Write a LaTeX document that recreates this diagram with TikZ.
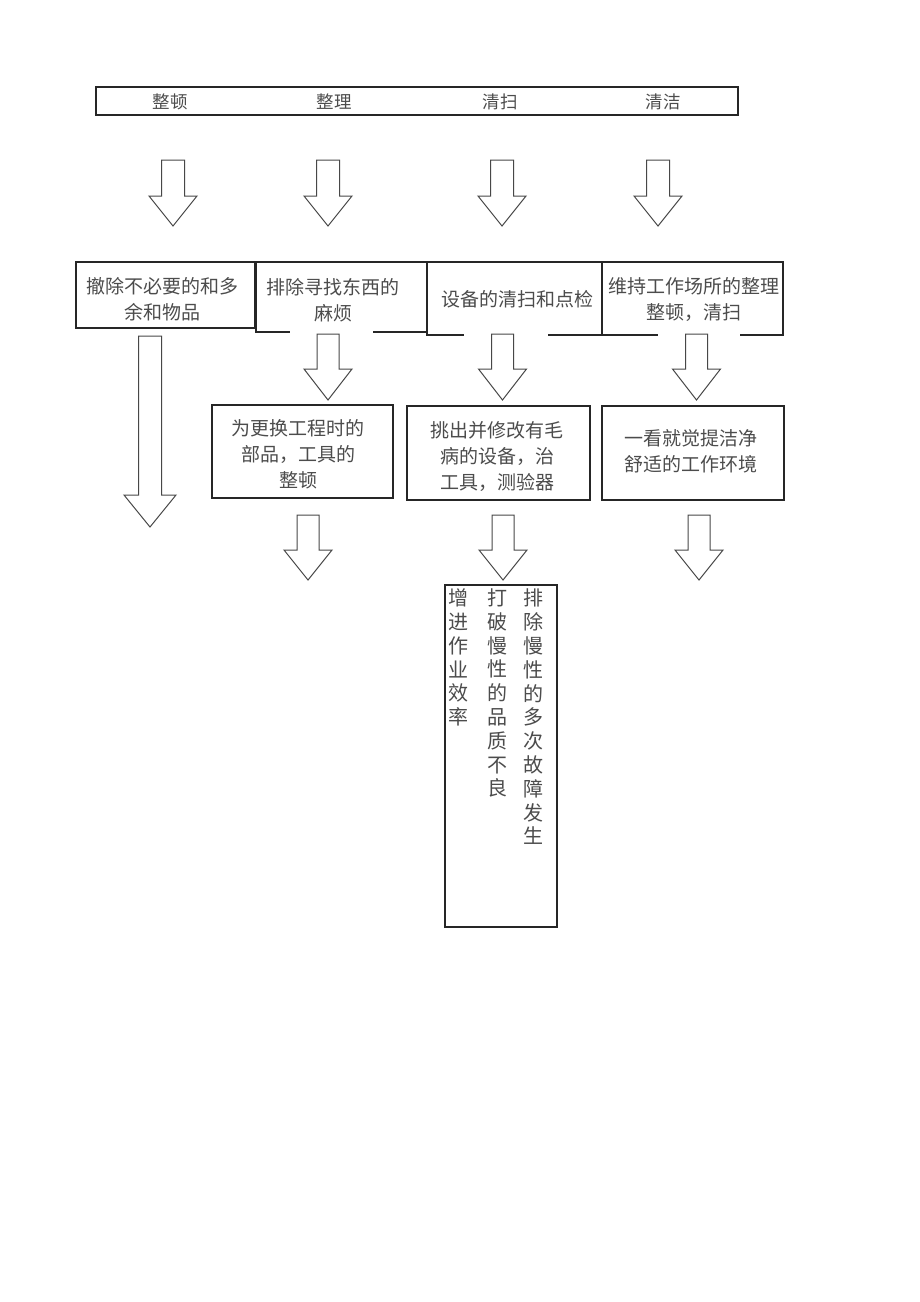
\documentclass[tikz,border=0pt]{standalone}
\usepackage{fontspec}
\newfontfamily\cjk{Noto Sans CJK SC}
\newcommand\dnarrow[6]{% cx, top, headstart, tip, shaft half width, head half width
  \draw[barrow] (#1-#5,#2) -- (#1+#5,#2) -- (#1+#5,#3) -- (#1+#6,#3) -- (#1,#4) -- (#1-#6,#3) -- (#1-#5,#3) -- cycle;}
\begin{document}
\begin{tikzpicture}[x=1pt,y=-1pt,
  box/.style={draw=black!85, line width=1.5pt, inner sep=0pt, outer sep=0pt},
  txt/.style={font=\cjk\fontsize{19}{26}\selectfont, text=black!70, align=center, inner sep=0pt},
  hdr/.style={font=\cjk\fontsize{17.5}{20}\selectfont, text=black!70, inner sep=0pt},
  vtxt/.style={font=\cjk\fontsize{20}{23.8}\selectfont, text=black!70, align=center, inner sep=0pt},
  gap/.style={draw=white, line width=3pt},
  barrow/.style={draw=black!72, line width=1pt, fill=white, line join=miter}]
\useasboundingbox[fill=white] (0,0) rectangle (920,1302);

% header box
\node[box, line width=1.3pt, minimum width=642, minimum height=28] (top) at (417,101) {};
\node[hdr] (h1) at (170,102) {整顿};
\node[hdr] (h2) at (334,102) {整理};
\node[hdr] (h3) at (500,102) {清扫};
\node[hdr] (h4) at (663,102) {清洁};

% first row of arrows
\dnarrow{173}{160}{196}{226}{11.5}{24}
\dnarrow{328}{160}{196}{226}{11.5}{24}
\dnarrow{502}{160}{196}{226}{11.5}{24}
\dnarrow{658}{160}{196}{226}{11.5}{24}

% second row boxes
\node[box, minimum width=179, minimum height=66] (bA) at (165.5,295) {};
\node[box, minimum width=171, minimum height=70] (bB) at (341.5,297) {};
\node[box, minimum width=175, minimum height=73] (bC) at (514.5,298.5) {};
\node[box, minimum width=181, minimum height=73] (bD) at (692.5,298.5) {};
\node[txt] (tA) at (162.5,299) {撤除不必要的和多\\余和物品};
\node[txt] (tB) at (333,300) {排除寻找东西的\\麻烦};
\node[txt] (tC) at (517,299) {设备的清扫和点检};
\node[txt] (tD) at (694,299) {维持工作场所的整理\\整顿，清扫};

% gaps in bottom edges
\draw[gap] (290,332) -- (373,332);
\draw[gap] (464,335) -- (548,335);
\draw[gap] (658,335) -- (740,335);

% long arrow under first box
\dnarrow{150}{336}{495}{527}{11.5}{26}

% arrows to third row
\dnarrow{328}{334}{369}{400}{11}{24}
\dnarrow{502.5}{334}{369}{400}{11}{24}
\dnarrow{696.5}{334}{369}{400}{11}{24}

% third row boxes
\node[box, minimum width=181, minimum height=93] (bB2) at (302.5,451.5) {};
\node[box, minimum width=183, minimum height=94] (bC2) at (498.5,453) {};
\node[box, minimum width=182, minimum height=94] (bD2) at (693,453) {};
\node[txt] (tB2) at (298,454) {为更换工程时的\\部品，工具的\\整顿};
\node[txt] (tC2) at (497,456) {挑出并修改有毛\\病的设备，治\\工具，测验器};
\node[txt] (tD2) at (691,451) {一看就觉提洁净\\舒适的工作环境};

% arrows under third row
\dnarrow{308}{515}{550}{580}{11}{24}
\dnarrow{503}{515}{550}{580}{11}{24}
\dnarrow{699}{515}{550}{580}{11}{24}

% vertical text box
\node[box, line width=1.3pt, minimum width=112, minimum height=342] (vbox) at (501,756) {};
\node[vtxt] (v1) at (533,717) {排\\除\\慢\\性\\的\\多\\次\\故\\障\\发\\生};
\node[vtxt] (v2) at (497,693.2) {打\\破\\慢\\性\\的\\品\\质\\不\\良};
\node[vtxt] (v3) at (458,657.5) {增\\进\\作\\业\\效\\率};
\end{tikzpicture}
\end{document}
